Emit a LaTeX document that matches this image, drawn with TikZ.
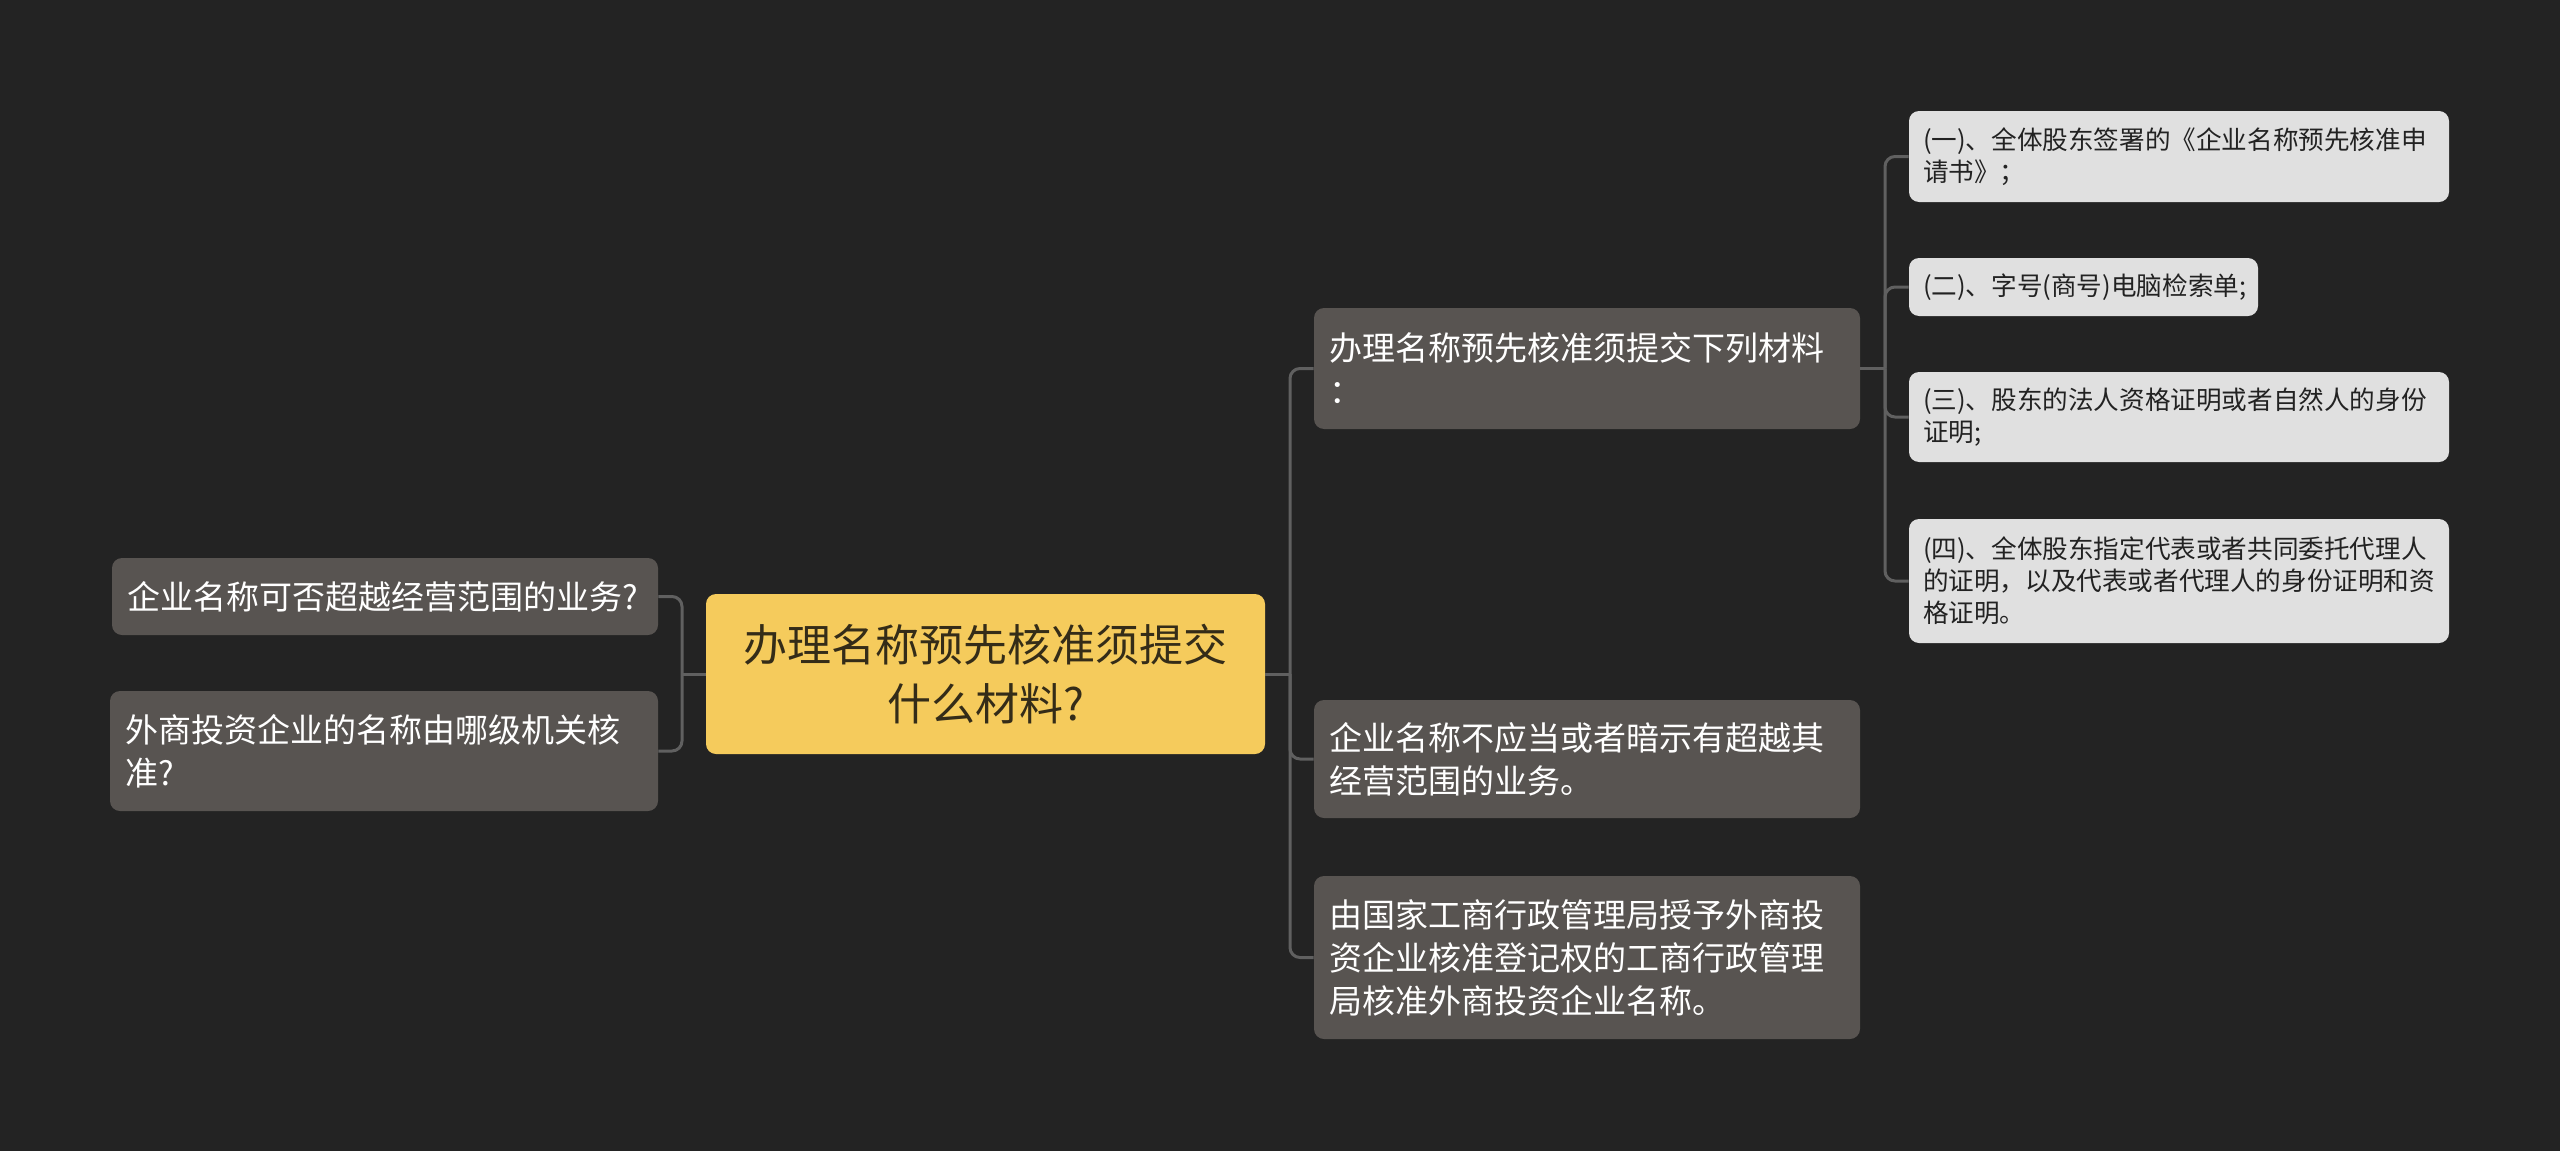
\documentclass[tikz,border=0pt]{standalone}
\usepackage{fontspec}
\newfontfamily\cjk{Noto Sans CJK SC}
\definecolor{bg}{RGB}{35,35,35}
\definecolor{midfill}{RGB}{88,84,81}
\definecolor{rootfill}{RGB}{245,203,92}
\definecolor{roottext}{RGB}{52,44,24}
\definecolor{lightfill}{RGB}{224,224,224}
\definecolor{lighttext}{RGB}{34,34,34}
\definecolor{linecol}{RGB}{96,96,96}
\tikzset{
  anybox/.style={rounded corners=5pt, inner sep=0pt, align=left},
  rootbox/.style={anybox, fill=rootfill, text=roottext, align=center,
    font=\cjk\fontsize{22pt}{29.5pt}\selectfont},
  midbox/.style={anybox, fill=midfill, text=white,
    font=\cjk\fontsize{16.5pt}{21.5pt}\selectfont},
  leafbox/.style={anybox, fill=lightfill, text=lighttext,
    font=\cjk\fontsize{12.8pt}{16pt}\selectfont},
  conn/.style={draw=linecol, line width=1.5pt, rounded corners=5pt}
}
\begin{document}
\begin{tikzpicture}[x=0.5pt,y=-0.5pt]
\fill[bg] (0,0) rectangle (2560,1151);
\useasboundingbox (0,0) rectangle (2560,1151);

% root
\node[rootbox, minimum width=279.5pt, minimum height=80pt, text width=262pt] (root) at (985.5,674)
  {办理名称预先核准须提交\\什么材料?};

% left
\node[midbox, minimum width=273pt, minimum height=38.5pt, text width=258pt] (L1) at (385,596.5)
  {企业名称可否超越经营范围的业务?};
\node[midbox, minimum width=274pt, minimum height=60pt, text width=259pt] (L2) at (384,751)
  {外商投资企业的名称由哪级机关核\\准?};

% right middle
\node[midbox, minimum width=273pt, minimum height=60.5pt, text width=258pt] (A) at (1587,368.5)
  {办理名称预先核准须提交下列材料\\：};
\node[midbox, minimum width=273pt, minimum height=59pt, text width=258pt] (B) at (1587,759)
  {企业名称不应当或者暗示有超越其\\经营范围的业务。};
\node[midbox, minimum width=273pt, minimum height=81.5pt, text width=258pt] (C) at (1587,957.5)
  {由国家工商行政管理局授予外商投\\资企业核准登记权的工商行政管理\\局核准外商投资企业名称。};

% far right leaves
\node[leafbox, minimum width=270pt, minimum height=45.5pt, text width=256pt] (n1) at (2179,156.5)
  {(一)、全体股东签署的《企业名称预先核准申\\请书》；};
\node[leafbox, minimum width=174.5pt, minimum height=29pt, text width=160.5pt] (n2) at (2083.5,287)
  {(二)、字号(商号)电脑检索单;};
\node[leafbox, minimum width=270pt, minimum height=45pt, text width=256pt] (n3) at (2179,417)
  {(三)、股东的法人资格证明或者自然人的身份\\证明;};
\node[leafbox, minimum width=270pt, minimum height=62pt, text width=256pt] (n4) at (2179,581)
  {(四)、全体股东指定代表或者共同委托代理人\\的证明，以及代表或者代理人的身份证明和资\\格证明。};

% connectors left
\coordinate (jL) at (682,674);
\draw[conn] (root.west) -- (jL);
\draw[conn] (jL) |- (L1.east);
\draw[conn] (jL) |- (L2.east);

% connectors right
\coordinate (jR) at (1290,674);
\draw[conn] (root.east) -- (jR);
\draw[conn] (jR) |- (A.west);
\draw[conn] (jR) |- (B.west);
\draw[conn] (jR) |- (C.west);

% connectors far right
\coordinate (jF) at (1885,368.5);
\draw[conn] (A.east) -- (jF);
\draw[conn] (jF) |- (n1.west);
\draw[conn] (jF) |- (n2.west);
\draw[conn] (jF) |- (n3.west);
\draw[conn] (jF) |- (n4.west);
\end{tikzpicture}
\end{document}
